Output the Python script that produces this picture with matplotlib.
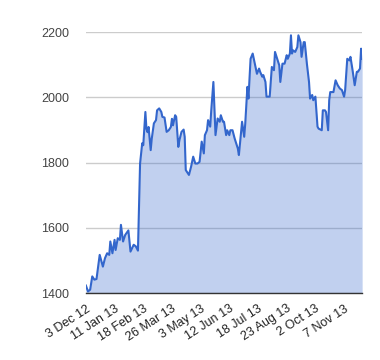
import matplotlib
matplotlib.use("Agg")
import matplotlib.pyplot as plt
import matplotlib.transforms as mtransforms

# trading-day index (from 3 Dec 12) and closing level
day = [0, 2, 4, 6, 8, 10, 13, 16, 18, 20,
       22, 23, 25, 27, 28, 30, 32, 33, 35, 37,
       40, 42, 45, 47, 49, 51, 53, 54, 56, 57,
       58, 59, 61, 62, 64, 66, 67, 69, 71, 72,
       74, 76, 78, 80, 81, 82, 84, 85, 87, 88,
       90, 92, 93, 94, 95, 97, 99, 101, 103, 105,
       107, 109, 111, 112, 114, 115, 117, 118, 120, 122,
       124, 126, 127, 129, 130, 132, 133, 135, 136, 138,
       140, 141, 143, 144, 145, 147, 149, 150, 152, 153,
       155, 157, 159, 161, 163, 164, 166, 167, 169, 170,
       172, 173, 175, 177, 178, 180, 182, 183, 185, 187,
       189, 190, 192, 193, 194, 195, 197, 199, 200, 202,
       203, 205, 206, 208, 210, 211, 213, 214, 216, 218,
       219, 222, 223, 225, 226, 228, 229, 230, 233, 235,
       237, 239, 241, 243, 244, 246, 248, 249, 251, 253,
       255, 256, 258, 259, 260]
close = [1423, 1405, 1410, 1451, 1441, 1443, 1517, 1481, 1507, 1522,
         1517, 1558, 1522, 1563, 1532, 1568, 1563, 1609, 1558, 1578,
         1592, 1527, 1548, 1543, 1530, 1797, 1859, 1853, 1955, 1903,
         1893, 1909, 1838, 1873, 1920, 1930, 1960, 1966, 1955, 1940,
         1938, 1894, 1899, 1909, 1934, 1914, 1945, 1940, 1848, 1868,
         1894, 1901, 1879, 1777, 1772, 1762, 1787, 1818, 1797, 1797,
         1802, 1864, 1828, 1884, 1899, 1930, 1910, 1960, 2047, 1884,
         1935, 1925, 1945, 1925, 1925, 1884, 1899, 1884, 1899, 1899,
         1874, 1864, 1843, 1823, 1858, 1925, 1879, 1920, 2032, 1996,
         2118, 2134, 2103, 2072, 2088, 2078, 2063, 2068, 2047, 2002,
         2002, 2002, 2093, 2083, 2139, 2118, 2098, 2047, 2103, 2103,
         2129, 2118, 2134, 2190, 2134, 2144, 2139, 2154, 2190, 2169,
         2124, 2169, 2169, 2103, 2047, 1996, 2007, 1991, 2002, 1910,
         1904, 1899, 1960, 1960, 1955, 1899, 1991, 2016, 2016, 2052,
         2037, 2027, 2022, 2002, 2022, 2118, 2113, 2124, 2083, 2037,
         2078, 2078, 2088, 2149, 2118]

tick_days = [0, 27, 54, 81, 108, 135, 162, 189, 216, 243]
tick_labels = ["3 Dec 12", "11 Jan 13", "18 Feb 13", "26 Mar 13", "3 May 13",
               "12 Jun 13", "18 Jul 13", "23 Aug 13", "2 Oct 13", "7 Nov 13"]
y_ticks = [1400, 1600, 1800, 2000, 2200]

plt.rcParams["font.family"] = ["Liberation Sans", "DejaVu Sans"]

fig = plt.figure(figsize=(3.8, 3.6), dpi=100)
ax = fig.add_axes([0.226, 0.186, 0.727, 0.725])

ax.fill_between(day, close, 1400, color="#3366cc", alpha=0.3, linewidth=0, zorder=2)
ax.plot(day, close, color="#3366cc", linewidth=1.5, zorder=3)

ax.set_xlim(0, day[-1])
ax.set_ylim(1400, 2200)
ax.set_yticks(y_ticks)
ax.set_xticks(tick_days)
ax.set_xticklabels(tick_labels, rotation=33, ha="right", rotation_mode="anchor")

# nudge the slanted labels a few pixels right, like the original
shift = mtransforms.ScaledTranslation(3 / 100, 0, fig.dpi_scale_trans)
for lbl in ax.get_xticklabels():
    lbl.set_transform(lbl.get_transform() + shift)

ax.grid(axis="y", color="#cccccc", linewidth=1, zorder=1)
ax.set_axisbelow(True)
for side in ["top", "right", "left"]:
    ax.spines[side].set_visible(False)
ax.spines["bottom"].set_color("#333333")
ax.spines["bottom"].set_linewidth(1)
ax.spines["bottom"].set_zorder(4)

ax.tick_params(axis="y", length=0, pad=12, labelsize=9, labelcolor="#444444")
ax.tick_params(axis="x", length=0, pad=7, labelsize=9, labelcolor="#222222")

fig.savefig("out.png", dpi=100)
